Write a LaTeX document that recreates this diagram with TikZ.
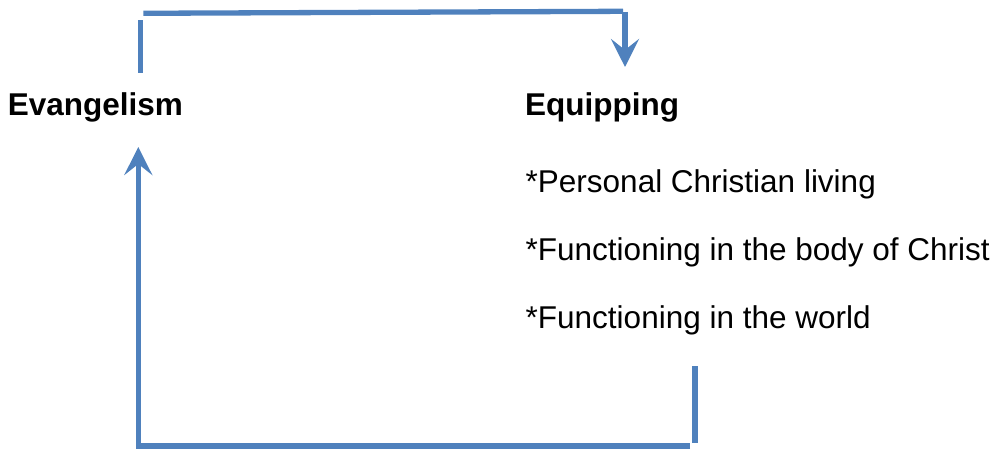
\documentclass[tikz,border=0pt]{standalone}
\usepackage{fontspec}
\setmainfont{Liberation Sans}
\usepackage{tikz}
\usetikzlibrary{positioning,arrows.meta}
\definecolor{officeblue}{RGB}{79,129,189}

\begin{document}
\begin{tikzpicture}
[
  x=1pt, y=-1pt,
  heading/.style={inner sep=0pt, anchor=base west, font=\fontsize{31.5}{38}\selectfont\bfseries},
  item/.style={inner sep=0pt, anchor=base west, font=\fontsize{31.5}{38}\selectfont},
  link/.style={draw=officeblue, line width=5.3pt},
  tip/.style={link, -{Stealth[length=28pt, width=28pt, inset=11pt]}}
]
\useasboundingbox (0,0) rectangle (1000,449);

\node (evangelism) [heading] at (7.7,116) {Evangelism};
\node (equipping) [heading] at (525,116) {Equipping};

\foreach \name/\y/\text in {personal/192/Personal Christian living,
    body/260/Functioning in the body of Christ,
    world/328/Functioning in the world}
  \node (\name) [item] at (525.5,\y) {*\text};

% top loop
\coordinate (up top) at (140.5,20);
\coordinate (up bottom) at (140.5,72.7);
\coordinate (bar left) at (143.3,13.3);
\coordinate (bar right) at (623,11.3);
\coordinate (down start) at (625,12);
\coordinate (down end) at (625,67);
\draw [link] (up bottom) -- (up top);
\draw [link] (bar left) -- (bar right);
\draw [tip] (down start) -- (down end);

% bottom loop
\coordinate (stub top) at (695,366);
\coordinate (stub bottom) at (695,443);
\coordinate (floor left) at (141,446);
\coordinate (floor right) at (690,446);
\coordinate (back start) at (138.3,449);
\coordinate (back end) at (138.3,147);
\draw [link] (stub top) -- (stub bottom);
\draw [link] (floor right) -- (floor left);
\draw [tip] (back start) -- (back end);
\end{tikzpicture}
\end{document}
